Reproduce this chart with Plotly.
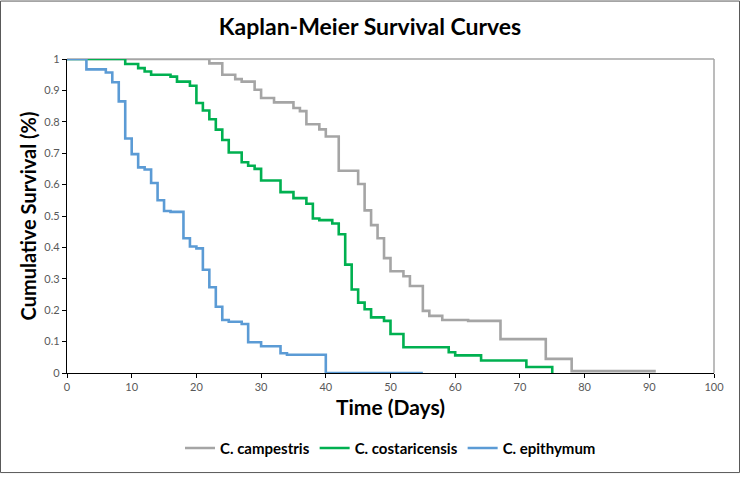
import plotly.graph_objects as go

# C. campestris
camp_t = [0, 22, 24, 26, 27, 29, 30, 32, 35, 36, 37, 39, 40, 42, 45, 46, 47, 48, 49, 50, 52, 53, 55, 56, 58, 62, 67, 74, 78, 91]
camp_s = [1, 0.986, 0.95, 0.936, 0.928, 0.902, 0.876, 0.862, 0.844, 0.834, 0.792, 0.776, 0.753, 0.644, 0.602, 0.518, 0.471,
          0.429, 0.366, 0.324, 0.308, 0.277, 0.198, 0.182, 0.169, 0.166, 0.108, 0.045, 0.006, 0.006]

# C. costaricensis
cost_t = [0, 9, 11, 12, 13, 16, 17, 19, 20, 21, 22, 23, 24, 25, 27, 28, 29, 30, 33, 35, 37, 38, 39, 41, 42, 43, 44, 45,
          46, 47, 49, 50, 52, 59, 60, 64, 71, 75]
cost_s = [1, 0.984, 0.971, 0.96, 0.95, 0.944, 0.928, 0.915, 0.86, 0.836, 0.808, 0.775, 0.742, 0.702, 0.671, 0.66, 0.65,
          0.613, 0.576, 0.557, 0.539, 0.492, 0.487, 0.476, 0.442, 0.345, 0.266, 0.224, 0.203, 0.177, 0.166, 0.124,
          0.082, 0.066, 0.056, 0.04, 0.019, 0]

# C. epithymum
epi_t = [0, 3, 6, 7, 8, 9, 10, 11, 12, 13, 14, 15, 16, 18, 19, 20, 21, 22, 23, 24, 25, 27, 28, 30, 33, 34, 40, 55]
epi_s = [1, 0.967, 0.957, 0.926, 0.865, 0.747, 0.697, 0.655, 0.648, 0.605, 0.55, 0.516, 0.513, 0.429, 0.403, 0.397,
         0.329, 0.273, 0.211, 0.169, 0.163, 0.156, 0.098, 0.085, 0.063, 0.058, 0, 0]

x_ticks = list(range(0, 101, 10))
y_ticks = [round(i * 0.1, 1) for i in range(11)]
y_labels = ["0", "0.1", "0.2", "0.3", "0.4", "0.5", "0.6", "0.7", "0.8", "0.9", "1"]

FONT = "Lato"
fig = go.Figure()
series = [
    ("C. campestris", camp_t, camp_s, "#A5A5A5"),
    ("C. costaricensis", cost_t, cost_s, "#00B050"),
    ("C. epithymum", epi_t, epi_s, "#5B9BD5"),
]
for name, t, s, c in series:
    fig.add_trace(go.Scatter(x=t, y=s, mode="lines", name=name, line=dict(color=c, width=2.6, shape="hv")))

W, H = 740, 477
L, R, T, B = 67, 26, 59, 101
pw, ph = W - L - R, H - T - B

def px_x(p):
    return (p - L) / pw

def px_y(p):
    return (H - B - p) / ph

shapes = [
    dict(type="line", xref="paper", yref="paper", x0=0, x1=1, y0=1, y1=1, line=dict(color="#A6A6A6", width=1.5), layer="below"),
    dict(type="line", xref="paper", yref="paper", x0=1, x1=1, y0=0, y1=1, line=dict(color="#A6A6A6", width=1.5), layer="below"),
    dict(type="rect", xref="paper", yref="paper", x0=px_x(0.5), x1=px_x(W - 0.5), y0=px_y(H - 0.5), y1=px_y(0.5),
         line=dict(color="#595959", width=1)),
]

fig.update_layout(
    width=W, height=H,
    margin=dict(l=L, r=R, t=T, b=B),
    paper_bgcolor="white", plot_bgcolor="white",
    font=dict(family=FONT, color="#595959", size=11),
    title=dict(text="<b>Kaplan-Meier Survival Curves</b>", x=0.5, xanchor="center", y=1 - 27 / H, yanchor="middle",
               font=dict(family=FONT, size=23, color="black")),
    showlegend=True,
    legend=dict(orientation="h", x=0.5, xanchor="center", y=px_y(452), yanchor="middle",
                font=dict(family=FONT, size=15, color="black", weight="bold"), itemwidth=30, traceorder="normal"),
    shapes=shapes,
    xaxis=dict(range=[0, 100], tickvals=x_ticks, ticks="outside", ticklen=4, tickcolor="black",
               showline=True, linecolor="black", linewidth=1.2, showgrid=False, zeroline=False,
               title=dict(text="<b>Time (Days)</b>", font=dict(family=FONT, size=21, color="black"), standoff=8),
               tickfont=dict(size=11, color="#595959")),
    yaxis=dict(range=[0, 1], tickvals=y_ticks, ticktext=y_labels, ticks="outside", ticklen=4, tickcolor="black",
               showline=True, linecolor="black", linewidth=1.2, showgrid=False, zeroline=False,
               title=dict(text="<b>Cumulative Survival (%)</b>", font=dict(family=FONT, size=20, color="black"), standoff=2),
               tickfont=dict(size=11, color="#595959")),
    xaxis2=dict(range=[0, 100], overlaying="x", side="bottom", tickvals=x_ticks, ticks="inside", ticklen=4,
                tickcolor="black", showticklabels=False, showline=False, showgrid=False, zeroline=False),
    yaxis2=dict(range=[0, 1], overlaying="y", side="left", tickvals=y_ticks, ticks="inside", ticklen=4,
                tickcolor="black", showticklabels=False, showline=False, showgrid=False, zeroline=False),
)

fig.write_html("out.html", config={"displayModeBar": False},
               post_script="document.body.style.margin='0';document.body.style.padding='0';")
